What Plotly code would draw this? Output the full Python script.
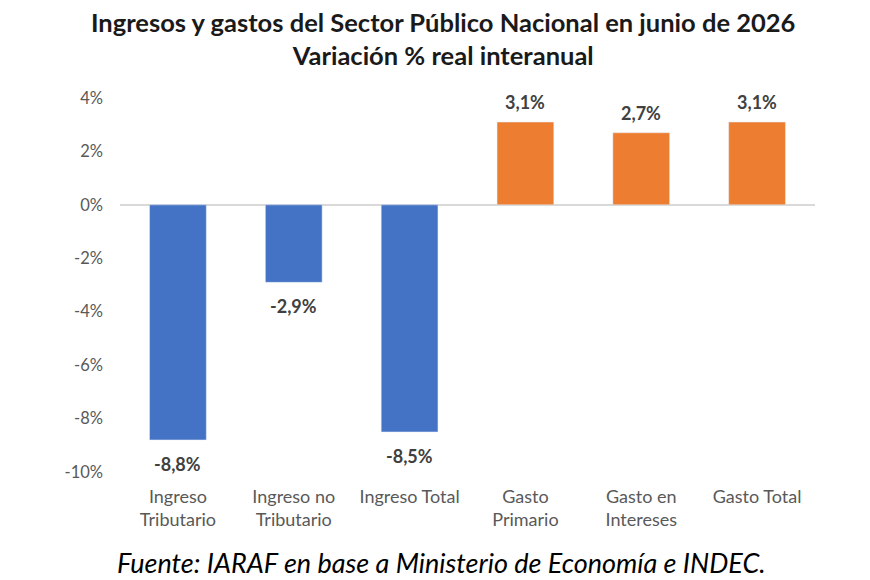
import plotly.graph_objects as go

categories = ["Ingreso<br>Tributario", "Ingreso no<br>Tributario", "Ingreso Total",
              "Gasto<br>Primario", "Gasto en<br>Intereses", "Gasto Total"]
values = [-8.8, -2.9, -8.5, 3.1, 2.7, 3.1]
bar_colors = ["#4472C4", "#4472C4", "#4472C4", "#ED7D31", "#ED7D31", "#ED7D31"]
tick_vals = [-10, -8, -6, -4, -2, 0, 2, 4]
tick_text = [f"{v}%" for v in tick_vals]
labels = [f"{v:.1f}%".replace(".", ",") for v in values]

FONT = "Lato"
PLOT_H = 580 - 98 - 108

fig = go.Figure(go.Bar(
    x=categories, y=values, marker_color=bar_colors, width=0.49,
))

for cat, val, lab in zip(categories, values, labels):
    fig.add_annotation(x=cat, y=val, text=lab, showarrow=False,
                       yanchor="middle", yshift=(20 if val > 0 else -24),
                       font=dict(family=FONT, size=18, color="#404040", weight="bold"))

fig.update_layout(
    width=870, height=580,
    margin=dict(l=120, r=55, t=98, b=108),
    paper_bgcolor="white", plot_bgcolor="white",
    showlegend=False,
    font=dict(family=FONT, color="#595959", size=17),
    bargap=0.5,
)
fig.update_yaxes(range=[-10, 4], tickvals=tick_vals, ticktext=tick_text,
                 showgrid=False, zeroline=True, zerolinecolor="#D9D9D9", zerolinewidth=1.5,
                 ticks="", tickfont=dict(size=16.5, color="#595959"), showline=False,
                 ticklabelstandoff=16)
fig.update_xaxes(showgrid=False, showline=False, ticks="", tickfont=dict(size=18, color="#595959"),
                 ticklabelstandoff=12)

fig.add_annotation(
    text="<b>Ingresos y gastos del Sector Público Nacional en junio de 2026<br>Variación % real interanual</b>",
    x=(443 - 120) / 695, xref="paper", xanchor="center", y=1 + (98 - 5) / PLOT_H, yref="paper",
    yanchor="top", showarrow=False, font=dict(family=FONT, size=25.5, color="#1a1a1a"))

fig.add_annotation(text="<i>Fuente: IARAF en base a Ministerio de Economía e INDEC.</i>",
                   x=0.463, xref="paper", y=-90 / PLOT_H, yref="paper", yanchor="middle",
                   xanchor="center", showarrow=False,
                   font=dict(family=FONT, size=27, color="#000000"))

fig.write_html("out.html")
